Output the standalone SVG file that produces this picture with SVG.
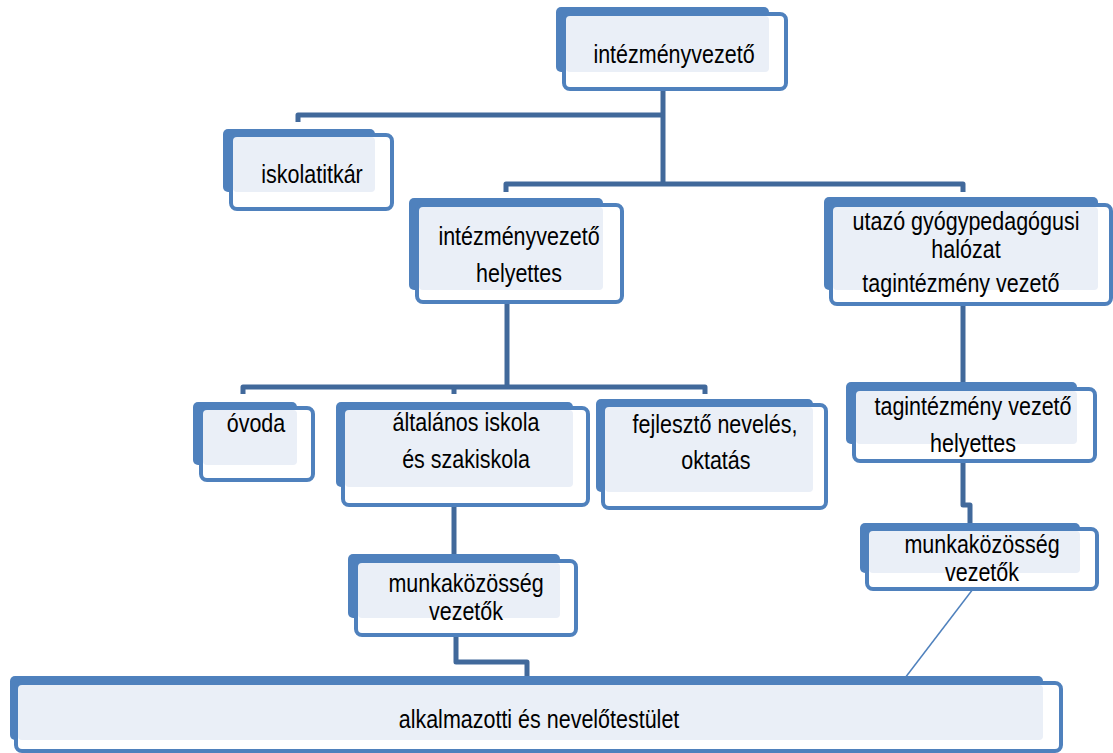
<svg xmlns="http://www.w3.org/2000/svg" width="1113" height="753" viewBox="0 0 1113 753">
<style>
.bk{fill:#4F81BD}
.wh{fill:#FFFFFF}
.lt{fill:#EAEFF7}
.ol{fill:none;stroke:#4F81BD;stroke-width:4}
.cn{fill:none;stroke:#41699B;stroke-width:5;stroke-linejoin:round}
.thin{fill:none;stroke:#4F81BD;stroke-width:1.5}
text{font-family:"Liberation Sans",Arial,sans-serif;font-size:25px;fill:#000;text-anchor:middle}
</style>
<rect width="1113" height="753" fill="#FFFFFF"/>
<g id="connectors">
<path class="cn" d="M663,89 V183"/>
<path class="cn" d="M298,122 V115 H663"/>
<path class="cn" d="M506,192 V184 H963 V192"/>
<path class="cn" d="M507,302 V387"/>
<path class="cn" d="M243,394 V387 H705 V394"/>
<path class="cn" d="M454,387 V394"/>
<path class="cn" d="M963,304 V382"/>
<path class="cn" d="M963,461 V505 H970 V523"/>
<path class="cn" d="M454,505 V554"/>
<path class="cn" d="M456,635 V662 H527 V676"/>
<path class="thin" d="M973,589 L905,678"/>
</g>
<g id="n1">
<rect class="bk" x="556" y="7" width="213" height="65" rx="5"/>
<rect class="wh" x="564" y="14" width="222" height="75" rx="6"/>
<rect class="lt" x="566" y="16" width="203" height="56" rx="4"/>
<rect class="ol" x="564" y="14" width="222" height="75" rx="6"/>
<g transform="translate(674,0) scale(0.86,1)"><text x="0" y="63">intézményvezető</text></g>
</g>
<g id="n2">
<rect class="bk" x="223" y="129" width="152" height="63" rx="5"/>
<rect class="wh" x="231" y="135" width="161" height="74" rx="6"/>
<rect class="lt" x="233" y="137" width="142" height="55" rx="4"/>
<rect class="ol" x="231" y="135" width="161" height="74" rx="6"/>
<g transform="translate(312,0) scale(0.86,1)"><text x="0" y="183">iskolatitkár</text></g>
</g>
<g id="n3">
<rect class="bk" x="409" y="198" width="194" height="92" rx="5"/>
<rect class="wh" x="417" y="205" width="205" height="97" rx="6"/>
<rect class="lt" x="419" y="207" width="184" height="83" rx="4"/>
<rect class="ol" x="417" y="205" width="205" height="97" rx="6"/>
<g transform="translate(519,0) scale(0.86,1)"><text x="0" y="245">intézményvezető</text><text x="0" y="282">helyettes</text></g>
</g>
<g id="n4">
<rect class="bk" x="824" y="197" width="274" height="93" rx="5"/>
<rect class="wh" x="831" y="205" width="280" height="99" rx="6"/>
<rect class="lt" x="833" y="207" width="265" height="83" rx="4"/>
<rect class="ol" x="831" y="205" width="280" height="99" rx="6"/>
<g transform="translate(966,0) scale(0.86,1)"><text x="0" y="230">utazó gyógypedagógusi</text><text x="0" y="258">halózat</text><text x="-6" y="292">tagintézmény vezető</text></g>
</g>
<g id="n5">
<rect class="bk" x="193" y="402" width="104" height="63" rx="5"/>
<rect class="wh" x="201" y="408" width="112" height="72" rx="6"/>
<rect class="lt" x="203" y="410" width="94" height="55" rx="4"/>
<rect class="ol" x="201" y="408" width="112" height="72" rx="6"/>
<g transform="translate(256,0) scale(0.86,1)"><text x="0" y="432">óvoda</text></g>
</g>
<g id="n6">
<rect class="bk" x="336" y="402" width="237" height="85" rx="5"/>
<rect class="wh" x="343" y="408" width="245" height="97" rx="6"/>
<rect class="lt" x="345" y="410" width="228" height="77" rx="4"/>
<rect class="ol" x="343" y="408" width="245" height="97" rx="6"/>
<g transform="translate(466,0) scale(0.86,1)"><text x="0" y="431">általános iskola</text><text x="0" y="468">és szakiskola</text></g>
</g>
<g id="n7">
<rect class="bk" x="596" y="399" width="217" height="93" rx="5"/>
<rect class="wh" x="603" y="405" width="223" height="103" rx="6"/>
<rect class="lt" x="605" y="407" width="208" height="85" rx="4"/>
<rect class="ol" x="603" y="405" width="223" height="103" rx="6"/>
<g transform="translate(715,0) scale(0.86,1)"><text x="0" y="433">fejlesztő nevelés,</text><text x="1" y="469">oktatás</text></g>
</g>
<g id="n8">
<rect class="bk" x="846" y="382" width="231" height="62" rx="5"/>
<rect class="wh" x="854" y="389" width="241" height="72" rx="6"/>
<rect class="lt" x="856" y="391" width="221" height="53" rx="4"/>
<rect class="ol" x="854" y="389" width="241" height="72" rx="6"/>
<g transform="translate(973,0) scale(0.86,1)"><text x="0" y="415">tagintézmény vezető</text><text x="0" y="452">helyettes</text></g>
</g>
<g id="n9">
<rect class="bk" x="860" y="523" width="220" height="50" rx="5"/>
<rect class="wh" x="867" y="529" width="230" height="60" rx="6"/>
<rect class="lt" x="869" y="531" width="211" height="42" rx="4"/>
<rect class="ol" x="867" y="529" width="230" height="60" rx="6"/>
<g transform="translate(982,0) scale(0.86,1)"><text x="0" y="553">munkaközösség</text><text x="0" y="581">vezetők</text></g>
</g>
<g id="n10">
<rect class="bk" x="348" y="554" width="212" height="64" rx="5"/>
<rect class="wh" x="356" y="561" width="220" height="74" rx="6"/>
<rect class="lt" x="358" y="563" width="202" height="55" rx="4"/>
<rect class="ol" x="356" y="561" width="220" height="74" rx="6"/>
<g transform="translate(466,0) scale(0.86,1)"><text x="0" y="592">munkaközösség</text><text x="0" y="620">vezetők</text></g>
</g>
<g id="n11">
<rect class="bk" x="10" y="676" width="1033" height="64" rx="5"/>
<rect class="wh" x="16" y="683" width="1045" height="68" rx="6"/>
<rect class="lt" x="18" y="685" width="1025" height="55" rx="4"/>
<rect class="ol" x="16" y="683" width="1045" height="68" rx="6"/>
<g transform="translate(539,0) scale(0.86,1)"><text x="0" y="728">alkalmazotti és nevelőtestület</text></g>
</g>
</svg>
